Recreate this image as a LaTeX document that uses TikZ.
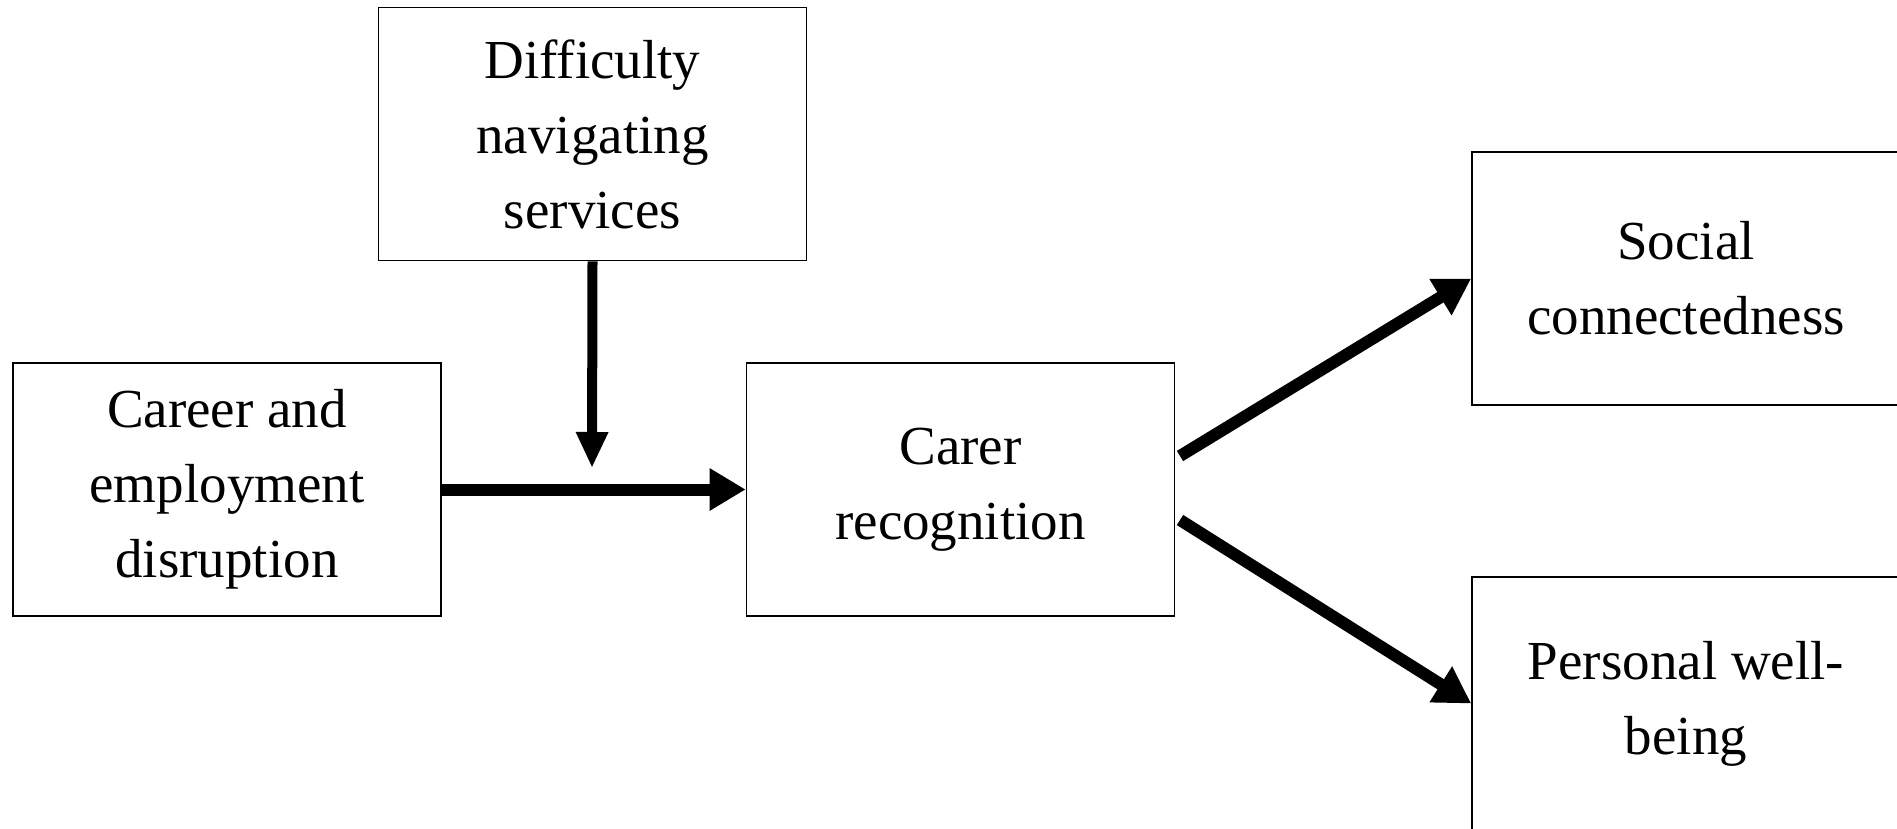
\documentclass[tikz,border=0pt]{standalone}
\usepackage{fontspec}
\setmainfont{Liberation Serif}
\usetikzlibrary{arrows.meta}
\begin{document}
\begin{tikzpicture}[x=1pt,y=-1pt,
  box/.style={draw=black,line width=1.6pt,rectangle,inner sep=0pt,
    minimum width=428pt,minimum height=253pt,align=center,
    font=\fontsize{55}{75}\selectfont},
  conn/.style={line width=12pt,-{Triangle[length=36pt,width=40pt]}},
  connv/.style={line width=10pt,-{Triangle[length=36pt,width=30pt]}}]
\useasboundingbox (0,0) rectangle (1897,829);
\node[box] (diff) at (592.5,134) {Difficulty\\navigating\\services};
\node[box] (career) at (227,489.5) {Career and\\employment\\disruption};
\node[box] (carer) at (960.5,489.5) {Carer\\recognition};
\node[box] (social) at (1686,278.5) {Social\\connectedness};
\node[box] (personal) at (1686,703.5) {Personal well-\\being};
\coordinate (vend) at (592,468);
\coordinate (s1) at (1180,456);
\coordinate (s2) at (1180,520);
\draw[conn] (career.east) -- (carer.west);
\draw[connv] (diff.south) -- (vend);
\draw[conn] (s1) -- (social.west);
\draw[conn] (s2) -- (personal.west);
\end{tikzpicture}
\end{document}
